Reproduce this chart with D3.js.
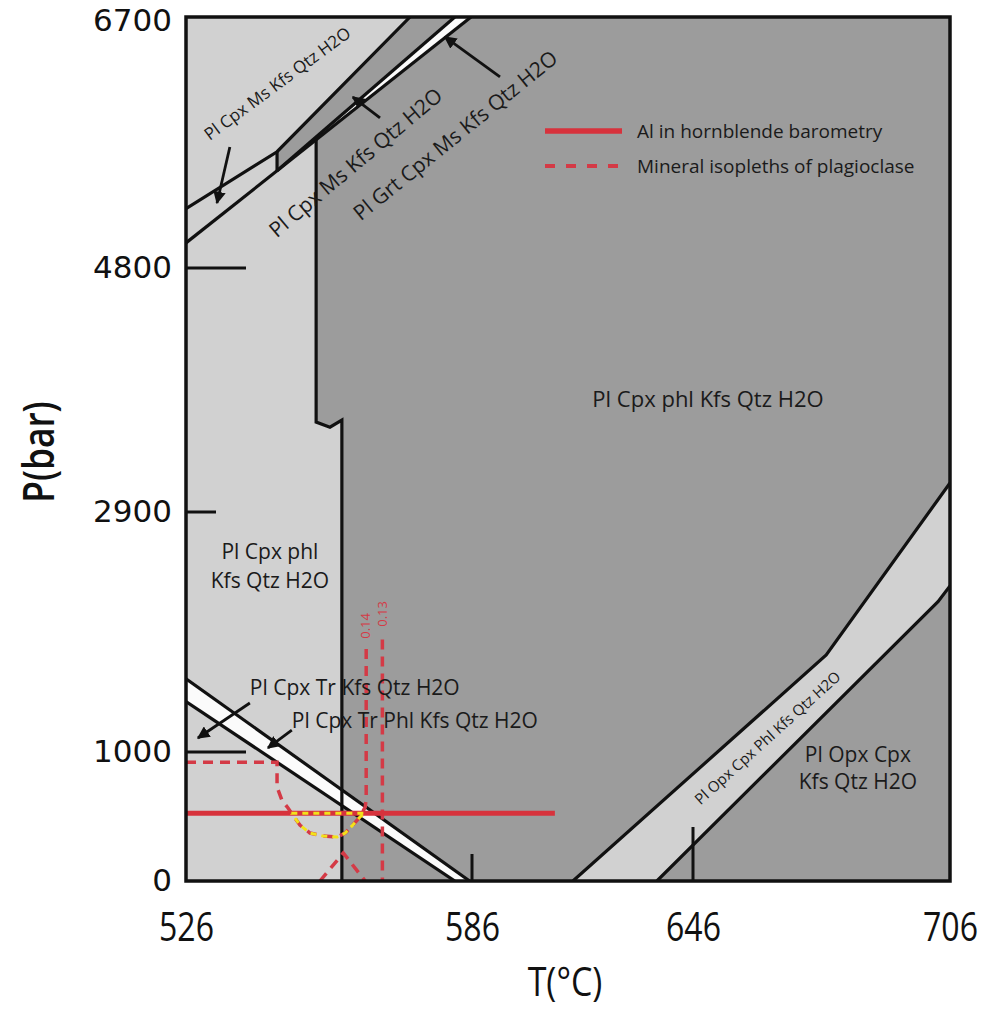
<!DOCTYPE html>
<html>
<head>
<meta charset="utf-8">
<script src="https://cdn.jsdelivr.net/npm/d3@7"></script>
<style>
  html, body { margin: 0; padding: 0; background: #fff; }
  svg { display: block; }
  .lbl { font-family: "Open Sans", sans-serif; fill: #1a1a1a; }
</style>
</head>
<body>
<svg id="chart" width="985" height="1009"></svg>
<script>
// ---- Axis ticks ----
const T_TICKS = [526, 586, 646, 706];
const P_TICKS = [0, 1000, 2900, 4800, 6700];

// ---- Phase boundaries, [T (°C), P (bar)] ----
const boundaryUpper    = [[526, 5250], [545.1, 5680], [573.0, 6700]];
const wedgeEdge        = [[545.1, 5680], [545.1, 5536]];
const boundaryGrt      = [[545.1, 5536], [582.4, 6700]];
const boundaryMs       = [[526, 4990], [585.8, 6700]];
const boundaryPhl      = [[553.3, 5770], [553.3, 3600], [556.2, 3560], [558.7, 3615], [558.7, 0]];
const trBandUpper      = [[526, 1580], [585.5, 0]];
const trBandLower      = [[526, 1400], [582.4, 0]];
const opxBandUpper     = [[613.4, 0], [677.1, 1768], [706, 3126]];
const opxBandLower     = [[636.2, 0], [703.2, 2190], [706, 2315]];

// ---- Barometry and plagioclase isopleths ----
const alHornblendeP = 525;
const alHornblendeT = [526, 608.5];
const isoplethXan014 = [[526, 920], [545.1, 920], [545.1, 729], [546.1, 628], [547.4, 566], [548.4, 512],
  [549.9, 434], [552.0, 372], [554.7, 349], [557.7, 341], [559.4, 372], [561.0, 434], [562.5, 496],
  [563.6, 574], [563.8, 640], [563.8, 1850]];
const isoplethXan013 = [[567.2, 1890], [567.2, 0]];
const isoplethApex   = [[554.1, 0], [559.0, 217], [563.6, 0]];
const overlapField   = [[548.1, 525], [563.6, 525], [562.5, 496], [561.0, 434], [559.4, 372], [557.7, 341],
  [554.7, 349], [552.0, 372], [549.9, 434], [548.4, 512], [548.1, 525]];

// ---- Field labels ----
const fieldLabels = [
  { text: "Pl Cpx Ms Kfs Qtz H2O", T: 545.1, P: 6200, rot: -36.5, size: 17 },
  { text: "Pl Cpx Ms Kfs Qtz H2O", T: 561.5, P: 5602, rot: -40, size: 21 },
  { text: "Pl Grt Cpx Ms Kfs Qtz H2O", T: 582.4, P: 5807, rot: -39, size: 21 },
  { text: "Pl Cpx phl Kfs Qtz H2O", T: 649.5, P: 3788, rot: 0, size: 22 },
  { text: "Pl Cpx phl", T: 543.6, P: 2591, rot: 0, size: 21 },
  { text: "Kfs Qtz H2O", T: 543.6, P: 2362, rot: 0, size: 21 },
  { text: "Pl Opx Cpx", T: 684.5, P: 985, rot: 0, size: 21 },
  { text: "Kfs Qtz H2O", T: 684.5, P: 775, rot: 0, size: 21 },
  { text: "Pl Opx Cpx Phl Kfs Qtz H2O", T: 663.3, P: 1116, rot: -42, size: 15 }
];
const leftLabels = [
  { text: "Pl Cpx Tr Kfs Qtz H2O", T: 539.4, P: 1515 },
  { text: "Pl Cpx Tr Phl Kfs Qtz H2O", T: 548.2, P: 1253 }
];
const isoplethLabels = [
  { text: "0.14", T: 563.6, P: 1998 },
  { text: "0.13", T: 567.2, P: 2093 }
];
const pointers = [
  { from: [535.2, 5716], to: [532.5, 5292] },
  { from: [566.7, 5936], to: [561.0, 6094] },
  { from: [593.6, 6246], to: [580.3, 6549] },
  { from: [539.4, 1388], to: [528.5, 1111] },
  { from: [548.2, 1174], to: [543.2, 1032] }
];
const legendItems = [
  { text: "Al in hornblende barometry", dashed: false },
  { text: "Mineral isopleths of plagioclase", dashed: true }
];

// ---- Colours ----
const DARK = "#9c9c9c", LIGHT = "#d1d1d1", WHITE = "#fbfbfb", INK = "#111";
const RED = "#d7323c", RED_DASH = "#d43a46", YELLOW = "#f2e21a";

const svg = d3.select("#chart");

// The diagram's temperature ticks are unevenly spaced, so each interval gets its own span.
const x = d3.scaleLinear().domain(T_TICKS).range([186, 472, 693, 950]);
const y = d3.scaleLinear().domain(P_TICKS).range([881, 752, 512, 268, 17]);

const line = d3.line().x(d => x(d[0])).y(d => y(d[1]));
const area = pts => line(pts) + "Z";

const [x0, x1] = [x(T_TICKS[0]), x(T_TICKS[T_TICKS.length - 1])];
const [yTop, yBot] = [y(P_TICKS[P_TICKS.length - 1]), y(P_TICKS[0])];

svg.append("defs").append("clipPath").attr("id", "plot")
  .append("rect").attr("x", x0).attr("y", yTop).attr("width", x1 - x0).attr("height", yBot - yTop);

const plot = svg.append("g").attr("clip-path", "url(#plot)");

// ---- Stability fields ----
plot.append("rect").attr("x", x0).attr("y", yTop).attr("width", x1 - x0).attr("height", yBot - yTop)
  .attr("fill", DARK);

const tMin = T_TICKS[0], pMax = P_TICKS[P_TICKS.length - 1], pMin = P_TICKS[0];
const fields = [
  { pts: [[tMin, pMax], ...boundaryUpper.slice().reverse()], fill: LIGHT },
  { pts: [...boundaryUpper.slice(0, 2), ...wedgeEdge.slice(1), ...boundaryPhl, [tMin, pMin]], fill: LIGHT },
  { pts: [...boundaryGrt, boundaryMs[1]], fill: WHITE },
  { pts: [...trBandUpper, ...trBandLower.slice().reverse()], fill: WHITE },
  { pts: [...opxBandUpper, ...opxBandLower.slice().reverse()], fill: LIGHT }
];
plot.selectAll("path.field").data(fields).join("path").attr("class", "field")
  .attr("d", d => area(d.pts)).attr("fill", d => d.fill).attr("stroke", "none");

// ---- Reaction lines ----
const boundaries = [boundaryUpper, wedgeEdge, boundaryGrt, boundaryMs, boundaryPhl,
  trBandUpper, trBandLower, opxBandUpper, opxBandLower];
plot.selectAll("path.bnd").data(boundaries).join("path").attr("class", "bnd")
  .attr("d", line).attr("fill", "none").attr("stroke", INK)
  .attr("stroke-width", 3.2).attr("stroke-linejoin", "miter");

// ---- Inner tick marks ----
const pTickLen = { 4800: 60, 2900: 30, 1000: 60 };
const tTickLen = { 586: 27, 646: 54 };
plot.selectAll("line.pt").data(P_TICKS.filter(p => pTickLen[p])).join("line").attr("class", "pt")
  .attr("x1", x0).attr("x2", d => x0 + pTickLen[d]).attr("y1", d => y(d)).attr("y2", d => y(d))
  .attr("stroke", INK).attr("stroke-width", 3);
plot.selectAll("line.tt").data(T_TICKS.filter(t => tTickLen[t])).join("line").attr("class", "tt")
  .attr("x1", d => x(d)).attr("x2", d => x(d)).attr("y1", yBot).attr("y2", d => yBot - tTickLen[d])
  .attr("stroke", INK).attr("stroke-width", 3);

// ---- Isopleths and barometry ----
const dashed = [isoplethXan014, isoplethXan013, isoplethApex];
plot.selectAll("path.iso").data(dashed).join("path").attr("class", "iso")
  .attr("d", line).attr("fill", "none").attr("stroke", RED_DASH)
  .attr("stroke-width", 3.5).attr("stroke-dasharray", "10,7");

plot.append("line")
  .attr("x1", x(alHornblendeT[0])).attr("x2", x(alHornblendeT[1]))
  .attr("y1", y(alHornblendeP)).attr("y2", y(alHornblendeP))
  .attr("stroke", RED).attr("stroke-width", 5);

plot.append("path").attr("d", line(overlapField)).attr("fill", "none")
  .attr("stroke", YELLOW).attr("stroke-width", 3).attr("stroke-dasharray", "6,5");

// ---- Frame ----
svg.append("rect").attr("x", x0).attr("y", yTop).attr("width", x1 - x0).attr("height", yBot - yTop)
  .attr("fill", "none").attr("stroke", INK).attr("stroke-width", 3.5);

// ---- Pointer arrows ----
svg.select("defs").append("marker").attr("id", "head")
  .attr("viewBox", "0 0 10 10").attr("refX", 9).attr("refY", 5)
  .attr("markerWidth", 4.5).attr("markerHeight", 4.5).attr("markerUnits", "strokeWidth")
  .attr("orient", "auto")
  .append("path").attr("d", "M0,0L10,5L0,10Z").attr("fill", INK);
svg.selectAll("line.ptr").data(pointers).join("line").attr("class", "ptr")
  .attr("x1", d => x(d.from[0])).attr("y1", d => y(d.from[1]))
  .attr("x2", d => x(d.to[0])).attr("y2", d => y(d.to[1]))
  .attr("stroke", INK).attr("stroke-width", 2.8).attr("marker-end", "url(#head)");

// ---- Field labels ----
svg.selectAll("text.field").data(fieldLabels).join("text").attr("class", "lbl field")
  .attr("transform", d => `translate(${x(d.T)},${y(d.P)}) rotate(${d.rot})`)
  .attr("text-anchor", "middle").attr("dominant-baseline", "central")
  .style("font-size", d => d.size + "px").text(d => d.text);

svg.selectAll("text.left").data(leftLabels).join("text").attr("class", "lbl left")
  .attr("x", d => x(d.T)).attr("y", d => y(d.P))
  .attr("dominant-baseline", "central").style("font-size", "21px").text(d => d.text);

svg.selectAll("text.iso").data(isoplethLabels).join("text").attr("class", "iso")
  .attr("transform", d => `translate(${x(d.T)},${y(d.P)}) rotate(-90)`)
  .attr("text-anchor", "middle").attr("dominant-baseline", "central")
  .style("font-family", "'Open Sans', sans-serif").style("font-size", "13px")
  .attr("fill", RED_DASH).text(d => d.text);

// ---- Legend ----
const legend = svg.append("g").attr("transform", "translate(545,131)");
const li = legend.selectAll("g").data(legendItems).join("g")
  .attr("transform", (d, i) => `translate(0,${i * 35})`);
li.append("line").attr("x1", 0).attr("x2", 77).attr("y1", 0).attr("y2", 0)
  .attr("stroke", d => d.dashed ? RED_DASH : RED)
  .attr("stroke-width", d => d.dashed ? 4 : 5.5)
  .attr("stroke-dasharray", d => d.dashed ? "10,11" : null);
li.append("text").attr("class", "lbl").attr("x", 92).attr("y", 0)
  .attr("dominant-baseline", "central").style("font-size", "19px").text(d => d.text);

// ---- Axes ----
const xAxis = svg.append("g").attr("transform", `translate(0,${yBot})`)
  .call(d3.axisBottom(x).tickValues(T_TICKS).tickSize(0).tickPadding(32).tickFormat(d3.format("d")));
xAxis.select(".domain").remove();
xAxis.selectAll("text").style("font-family", "'Open Sans', sans-serif")
  .style("font-size", "40px").attr("fill", "#111")
  .attr("transform", "scale(0.8,1)");

const yAxis = svg.append("g").attr("transform", `translate(${x0},0)`)
  .call(d3.axisLeft(y).tickValues(P_TICKS).tickSize(0).tickPadding(14).tickFormat(d3.format("d")));
yAxis.select(".domain").remove();
yAxis.selectAll("text").style("font-family", "'DejaVu Sans', sans-serif")
  .style("font-size", "31px").attr("fill", "#111");
yAxis.selectAll(".tick").filter(d => d === pMax).select("text").attr("dy", "0.45em");

svg.append("text").attr("transform", `translate(${(x0 + x1) / 2 - 3},996) scale(0.85,1)`)
  .attr("text-anchor", "middle")
  .style("font-family", "'Open Sans', sans-serif").style("font-size", "40px")
  .attr("fill", "#111").text("T(°C)");

svg.append("text").attr("transform", "translate(37,452) rotate(-90) scale(0.8,1)")
  .attr("text-anchor", "middle").attr("dominant-baseline", "central")
  .style("font-family", "'Open Sans', sans-serif").style("font-size", "44px")
  .style("font-weight", "600").attr("fill", "#111").text("P(bar)");
</script>
</body>
</html>
